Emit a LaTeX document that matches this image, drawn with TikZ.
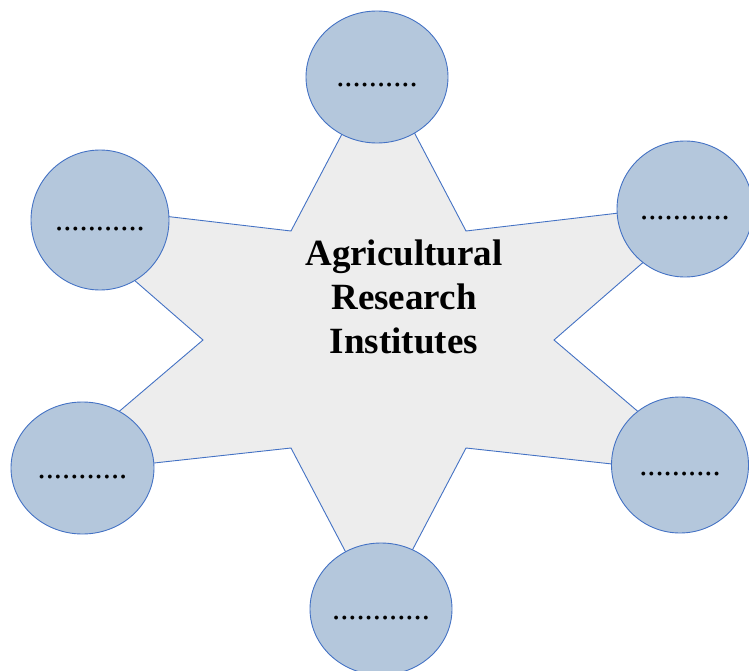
\documentclass[tikz,border=0pt]{standalone}
\usepackage{fontspec}
\setmainfont{Liberation Serif}
\usepackage{tikz}
\usetikzlibrary{shapes.geometric}
\usepackage{xcolor}
\definecolor{bolafill}{HTML}{B4C7DC}
\definecolor{contorno}{HTML}{4472C4}
\definecolor{estrelafill}{HTML}{EDEDED}

\begin{document}
\begin{tikzpicture}[x=1pt, y=-1pt,
    bola/.style={ellipse, draw=contorno, fill=bolafill, line width=0.9pt, inner sep=0pt,
      font=\fontsize{32.6}{36}\selectfont, text height=20pt, text depth=0pt}]
    % Moldura
    \useasboundingbox (0,0) rectangle (749,671);
    % Estrela
    \draw[contorno, fill=estrelafill, line width=0.9pt]
      (378.5,64.5) -- (466,231) -- (712.5,202) -- (554,340) -- (712.5,475) -- (466,448)
      -- (378.5,614.5) -- (291,448) -- (44.5,475) -- (203,340) -- (44.5,202) -- (291,231) -- cycle;
    % Texto central
    \node[font=\fontsize{37}{44}\selectfont\bfseries, align=center] (centro) at (404,296.5)
      {Agricultural\\Research\\Institutes};
    % Circulos
    \node[bola, minimum width=142pt, minimum height=132pt] (topo) at (377,77) {..........};
    \node[bola, minimum width=138pt, minimum height=140pt] (supesq) at (100,220) {...........};
    \node[bola, minimum width=136pt, minimum height=136pt] (supdir) at (685,209) {...........};
    \node[bola, minimum width=143pt, minimum height=132pt] (infesq) at (82.5,468) {...........};
    \node[bola, minimum width=137pt, minimum height=136pt] (infdir) at (680,465) {..........};
    \node[bola, minimum width=142pt, minimum height=132pt] (base) at (381,609) {............};
\end{tikzpicture}
\end{document}
